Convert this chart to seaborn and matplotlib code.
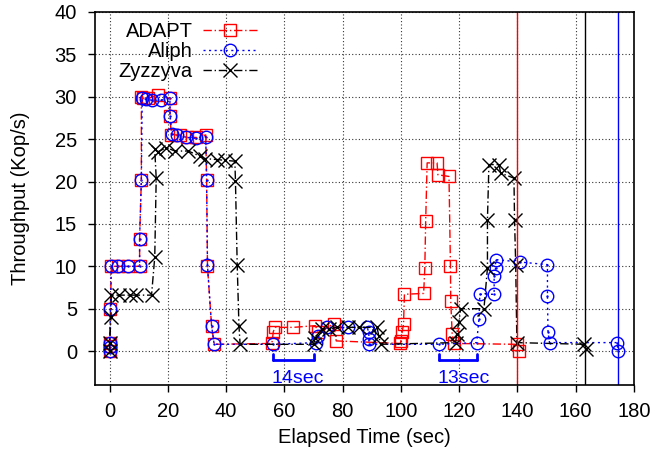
import matplotlib
matplotlib.use("Agg")
import matplotlib.pyplot as plt
import seaborn as sns
import pandas as pd

# ---------------- data ----------------
adapt_t = [0, 0, 0, 0.3, 0.6, 2.9, 6.3, 10.3, 10.3, 10.9, 10.9, 11.4, 13.2, 16.5, 20.7, 20.7,
           21.2, 24.1, 26.6, 29.8, 33.0, 33.3, 33.6, 35.0, 35.9, 55.7, 56.2, 56.8, 63.1, 70.6,
           71.7, 76.9, 77.8, 99.8, 100.0, 100.4, 100.9, 101.2, 107.8, 108.2, 108.5, 109.0,
           112.4, 112.7, 116.5, 117.0, 117.1, 117.6, 118.2, 139.8, 140.5]
adapt_v = [0, 0.6, 1.0, 5.0, 10.0, 10.0, 10.0, 10.0, 13.2, 20.2, 30.0, 29.9, 29.8, 30.2, 29.8, 27.7,
           25.5, 25.5, 25.2, 25.2, 25.5, 20.2, 10.0, 3.0, 0.8, 0.9, 2.3, 2.8, 2.8, 3.0,
           2.2, 3.2, 1.2, 0.9, 1.2, 2.2, 3.2, 6.7, 6.8, 9.8, 15.4, 22.2,
           22.2, 20.8, 20.6, 10.0, 5.9, 2.0, 0.9, 0.8, 0.0]

aliph_t = [0, 0, 0, 0.3, 0.6, 2.9, 6.3, 10.3, 10.3, 10.9, 11.2, 12.5, 14.5, 17.5, 20.7, 20.8,
           21.4, 23.0, 26.2, 29.8, 33.0, 33.3, 33.6, 35.0, 35.9, 56.0, 71.0, 71.6, 74.6, 82.0,
           88.4, 89.0, 89.0, 89.0, 113.0, 126.0, 126.8, 127.1, 132.0, 132.0, 132.5, 132.5,
           141.0, 150.3, 150.3, 150.5, 151.0, 174.2, 174.5]
aliph_v = [0, 0.5, 1.0, 5.0, 10.0, 10.0, 10.0, 10.0, 13.2, 20.2, 29.8, 29.7, 29.6, 29.6, 29.8, 27.7,
           25.6, 25.5, 25.2, 25.1, 25.3, 20.2, 10.1, 3.0, 0.8, 0.8, 1.0, 1.8, 2.8, 2.8,
           2.8, 2.2, 1.4, 0.8, 0.8, 1.0, 3.8, 6.7, 6.7, 8.9, 9.8, 10.8,
           10.5, 10.2, 6.5, 2.2, 1.0, 1.0, 0.0]

zyz_t = [0, 0, 0.5, 0.6, 3.4, 6.9, 9.2, 14.4, 15.5, 16.0, 15.5, 16.5, 19.5, 22.4, 27.0, 31.0,
         32.7, 36.7, 39.6, 43.0, 43.2, 43.8, 44.4, 44.8, 70.0, 70.6, 72.9, 75.2, 78.0, 82.0,
         85.5, 91.8, 92.4, 93.0, 118.8, 119.1, 119.9, 120.5, 128.5, 129.7, 129.7, 130.2,
         133.7, 134.2, 138.8, 139.0, 139.4, 139.8, 163.0, 163.5]
zyz_v = [0, 1.0, 4.0, 6.6, 6.6, 6.6, 6.6, 6.6, 11.1, 20.4, 23.8, 23.5, 24.0, 23.6, 23.6, 23.0,
         22.7, 22.6, 22.5, 22.4, 20.1, 10.2, 3.0, 0.8, 0.8, 1.6, 2.6, 2.6, 2.8, 2.8,
         2.8, 2.8, 1.8, 0.8, 1.0, 2.0, 3.4, 5.0, 5.0, 9.8, 15.5, 22.0,
         22.0, 21.0, 20.4, 15.5, 10.2, 1.0, 0.8, 0.3]

series_names = ["ADAPT", "Aliph", "Zyzzyva"]
end_times = [140.0, 163.2, 174.4]          # vertical end markers (ADAPT, Zyzzyva, Aliph)
end_colors = ["red", "black", "blue"]

bracket_start = [56.0, 113.0]
bracket_end = [70.0, 126.0]
bracket_labels = ["14sec", "13sec"]

x_ticks = list(range(0, 181, 20))
y_ticks = list(range(0, 41, 5))

# ---------------- style ----------------
sns.set_style("ticks")
plt.rcParams["font.family"] = ["Liberation Sans", "DejaVu Sans"]
plt.rcParams["text.color"] = "black"
plt.rcParams["axes.labelcolor"] = "black"
plt.rcParams["xtick.color"] = "black"
plt.rcParams["ytick.color"] = "black"
FS = 14.5

fig = plt.figure(figsize=(6.54, 4.58), dpi=100)
ax = fig.add_axes([0.1453, 0.1594, 0.8241, 0.8144])

styles = {
    "ADAPT": dict(color="#ff0000", linestyle=(0, (6, 2, 1, 2)), marker="s", ms=9),
    "Aliph": dict(color="#0000ff", linestyle=(0, (1.5, 2.5)), marker="o", ms=9),
    "Zyzzyva": dict(color="black", linestyle=(0, (6, 2, 1, 2)), marker="x", ms=10),
}
data = {"ADAPT": (adapt_t, adapt_v), "Aliph": (aliph_t, aliph_v), "Zyzzyva": (zyz_t, zyz_v)}

for name in series_names:
    t, v = data[name]
    df = pd.DataFrame({"t": t, "v": v})
    st = styles[name]
    sns.lineplot(data=df, x="t", y="v", ax=ax, estimator=None, sort=False,
                 color=st["color"], linestyle=st["linestyle"], marker=st["marker"],
                 markersize=st["ms"], markerfacecolor="none", markeredgecolor=st["color"],
                 markeredgewidth=1.0, linewidth=1.0, label=name)

# small centre dots inside Aliph circles
sns.scatterplot(x=aliph_t, y=aliph_v, ax=ax, s=3, color="#0000ff", linewidth=0, legend=False)

for xv, c in zip(end_times, end_colors):
    ax.axvline(xv, color=c, linewidth=1.0)

for s, e, lab in zip(bracket_start, bracket_end, bracket_labels):
    ax.plot([s, e], [-1.0, -1.0], color="blue", linewidth=2)
    ax.plot([s, s], [-0.3, -1.1], color="blue", linewidth=2)
    ax.plot([e, e], [-0.3, -1.1], color="blue", linewidth=2)
    ax.text(s - 0.5, -3.75, lab, color="blue", fontsize=FS - 0.5, ha="left", va="baseline")

ax.set_xlim(-5, 180)
ax.set_ylim(-4, 40)
ax.set_xticks(x_ticks)
ax.set_yticks(y_ticks)
ax.grid(True, linestyle=(0, (1, 2)), color="#333333", linewidth=0.8)
for sp in ax.spines.values():
    sp.set_visible(True)
    sp.set_color("black")
    sp.set_linewidth(1.2)
ax.tick_params(direction="out", length=5, width=1, labelsize=FS, colors="black")
ax.tick_params(axis="x", pad=7)
ax.tick_params(axis="y", pad=8)
ax.set_xlabel("Elapsed Time (sec)", fontsize=FS, labelpad=5, color="black")
ax.set_ylabel("Throughput (Kop/s)", fontsize=FS, labelpad=18, color="black")

leg = ax.legend(loc="upper right", bbox_to_anchor=(0.301, 0.972), frameon=False, markerfirst=False,
                handlelength=2.7, fontsize=FS, labelspacing=0.05, borderaxespad=0, borderpad=0,
                handletextpad=0.5)
for txt in leg.get_texts():
    txt.set_color("black")

fig.savefig("out.png", dpi=100)
